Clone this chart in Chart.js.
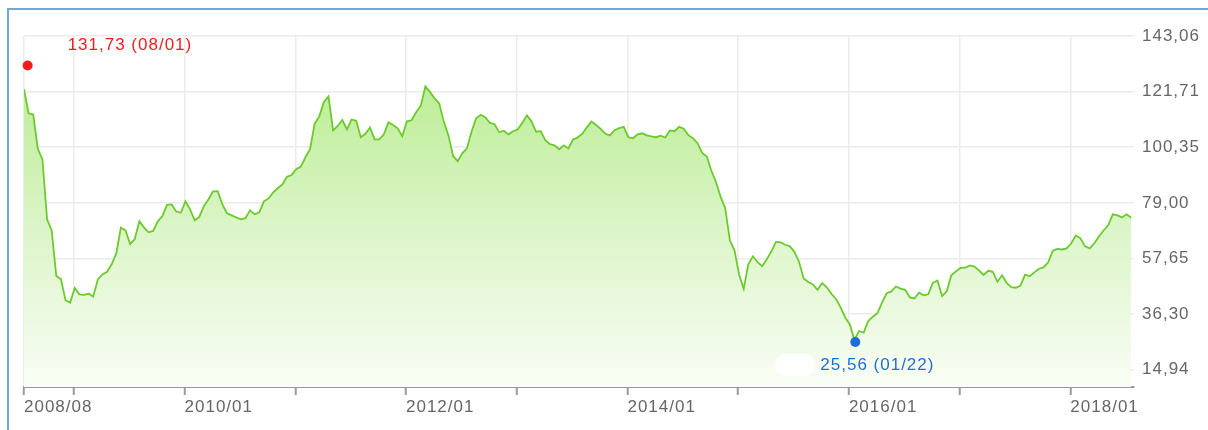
<!DOCTYPE html>
<html>
<head>
<meta charset="utf-8">
<script src="https://cdn.jsdelivr.net/npm/chart.js@4.4.1/dist/chart.umd.min.js"></script>
<style>
  html, body { margin: 0; padding: 0; background: #fff; }
  #wrap { position: relative; width: 1208px; height: 430px; overflow: hidden; }
  #frame { position: absolute; left: 7px; top: 8px; right: -10px; bottom: -10px;
           border-left: 2px solid #6fa6dc; border-top: 2px solid #6fa6dc; }
  canvas { position: absolute; left: 0; top: 0; }
</style>
</head>
<body>
<div id="wrap">
  <div id="frame"></div>
  <canvas id="priceChart" width="1208" height="430"></canvas>
</div>
<script>
(function(){
  // half-monthly samples, starting mid July 2008
  const START_YEAR = 2008.55;
  const STEP = 1 / 24;
  const prices = [
    122.6, 113.4, 112.9, 99.7, 95.7, 72.7, 68.4, 50.9, 49.7, 41.6,
    40.7, 46.3, 43.9, 43.7, 44.1, 43.0, 49.6, 51.5, 52.5, 55.4,
    59.6, 69.5, 68.4, 63.2, 65.0, 71.9, 69.6, 67.7, 68.2, 71.9,
    73.9, 78.2, 78.4, 75.7, 75.2, 79.6, 76.5, 72.3, 73.6, 77.8,
    80.4, 83.4, 83.5, 78.4, 75.0, 74.2, 73.4, 72.7, 73.1, 76.1,
    74.6, 75.4, 79.6, 80.7, 83.0, 84.6, 86.1, 89.0, 89.7, 91.9,
    92.9, 96.5, 99.6, 109.4, 112.2, 117.7, 119.9, 106.8, 108.5, 110.8,
    107.2, 111.0, 110.5, 104.2, 105.5, 107.9, 103.4, 103.4, 105.3, 109.9,
    108.9, 107.6, 104.6, 110.3, 110.7, 113.8, 116.3, 123.7, 121.6, 119.1,
    117.2, 110.1, 104.9, 97.0, 95.0, 98.0, 99.9, 106.3, 111.5, 112.8,
    111.8, 109.7, 109.2, 106.1, 106.7, 105.3, 106.5, 107.2, 109.7, 112.6,
    110.3, 106.3, 106.5, 103.1, 101.5, 101.1, 99.6, 101.1, 99.9, 103.3,
    104.1, 105.5, 108.0, 110.2, 108.9, 107.4, 105.5, 104.9, 106.9, 107.7,
    108.2, 104.2, 103.8, 105.3, 105.7, 104.9, 104.5, 104.2, 104.8, 104.1,
    106.8, 106.5, 108.2, 107.5, 105.0, 103.8, 101.9, 98.2, 96.8, 91.3,
    86.9, 81.3, 76.9, 64.6, 60.8, 51.5, 46.0, 55.4, 58.5, 56.2,
    54.7, 57.3, 60.4, 64.0, 63.8, 62.9, 62.3, 60.2, 56.3, 50.0,
    48.6, 47.7, 45.6, 48.2, 46.6, 44.1, 42.1, 38.9, 35.0, 32.3,
    26.5, 29.8, 29.2, 33.6, 35.3, 36.6, 40.8, 44.3, 45.0, 46.9,
    46.1, 45.6, 42.7, 42.3, 44.5, 43.5, 43.9, 48.3, 49.2, 43.2,
    45.0, 51.2, 52.7, 54.0, 54.1, 55.0, 54.5, 53.1, 51.3, 52.9,
    52.5, 48.7, 51.2, 48.3, 46.6, 46.4, 47.2, 51.4, 50.8, 52.3,
    53.7, 54.2, 56.2, 60.6, 61.3, 61.1, 61.5, 63.5, 66.5, 65.4,
    62.3, 61.5, 63.5, 66.1, 68.4, 70.4, 74.6, 74.2, 73.4, 74.6, 73.3
  ];

  const yTicks = [14.94, 36.30, 57.65, 79.00, 100.35, 121.71, 143.06];
  const xTickYears = [2008.55, 2009, 2010, 2011, 2012, 2013, 2014, 2015, 2016, 2017, 2018];
  const xTickLabels = ['2008/08', '', '2010/01', '', '2012/01', '', '2014/01', '', '2016/01', '', '2018/01'];

  // high / low markers
  const extremeYears = [2008.583, 2016.058];
  const extremeValues = [131.73, 25.56];
  const extremeTexts = ['131,73 (08/01)', '25,56 (01/22)'];
  const extremeColors = ['#f21c1c', '#1d6fd8'];

  const FONT = { family: '"Liberation Sans", Arial, sans-serif', size: 17 };

  const lineData = prices.map((v, i) => ({ x: START_YEAR + i * STEP, y: v }));
  const extremeData = extremeValues.map((v, i) => ({ x: extremeYears[i], y: v }));

  function fillGradient(ctx){
    const area = ctx.chart.chartArea;
    if(!area) return '#d8f5c0';
    const g = ctx.chart.ctx.createLinearGradient(0, area.top, 0, area.bottom);
    g.addColorStop(0, '#b2eb86');
    g.addColorStop(0.55, '#dcf5c8');
    g.addColorStop(1, '#f9fdf5');
    return g;
  }

  const spacingPlugin = {
    id: 'spacing',
    beforeDraw(chart){ chart.ctx.letterSpacing = '1px'; }
  };

  const extremeLabelPlugin = {
    id: 'extremeLabels',
    afterDatasetsDraw(chart){
      const pts = chart.getDatasetMeta(1).data;
      const ctx = chart.ctx;
      ctx.save();
      ctx.font = FONT.size + 'px ' + FONT.family;
      ctx.textAlign = 'left';
      ctx.textBaseline = 'middle';
      // high label sits up and to the right, low label below
      ctx.fillStyle = extremeColors[0];
      ctx.fillText(extremeTexts[0], pts[0].x + 40, pts[0].y - 20);
      ctx.fillStyle = '#ffffff';
      ctx.beginPath();
      ctx.roundRect(pts[1].x - 80, pts[1].y + 12, 40, 22, 10);
      ctx.fill();
      ctx.fillStyle = extremeColors[1];
      ctx.fillText(extremeTexts[1], pts[1].x - 35, pts[1].y + 23);
      ctx.restore();
    }
  };

  new Chart(document.getElementById('priceChart'), {
    type: 'line',
    data: {
      datasets: [
        {
          data: lineData,
          order: 1,
          borderColor: '#6cca2c',
          borderWidth: 1.8,
          backgroundColor: fillGradient,
          fill: 'start',
          pointRadius: 0,
          tension: 0
        },
        {
          data: extremeData,
          order: 0,
          showLine: false,
          pointRadius: 5,
          pointBackgroundColor: extremeColors,
          pointBorderColor: extremeColors,
          pointBorderWidth: 0,
          clip: false
        }
      ]
    },
    options: {
      responsive: false,
      animation: false,
      layout: { padding: { left: 24, top: 36, right: 0, bottom: 0 } },
      plugins: { legend: { display: false }, tooltip: { enabled: false } },
      scales: {
        x: {
          type: 'linear',
          min: START_YEAR,
          max: 2018.575,
          afterBuildTicks: s => { s.ticks = xTickYears.map(v => ({ value: v })); },
          afterFit: s => { s.height = 43; },
          ticks: {
            autoSkip: false, maxRotation: 0, align: 'start', padding: 2,
            color: '#666', font: FONT,
            callback: (v, i) => xTickLabels[i]
          },
          grid: { color: '#ebebeb', lineWidth: 1.5, tickLength: 8, tickColor: '#9a9a9a', tickWidth: 2 },
          border: { color: '#9a9a9a', width: 2 }
        },
        y: {
          position: 'right',
          min: 8.3,
          max: 143.06,
          afterBuildTicks: s => { s.ticks = yTicks.map(v => ({ value: v })); },
          afterFit: s => { s.width = 74; },
          ticks: {
            padding: 8, color: '#666', font: FONT,
            callback: v => v.toFixed(2).replace('.', ',')
          },
          grid: { color: '#ebebeb', lineWidth: 1.5, drawTicks: false },
          border: { display: false }
        }
      }
    },
    plugins: [spacingPlugin, extremeLabelPlugin]
  });
})();
</script>
</body>
</html>
